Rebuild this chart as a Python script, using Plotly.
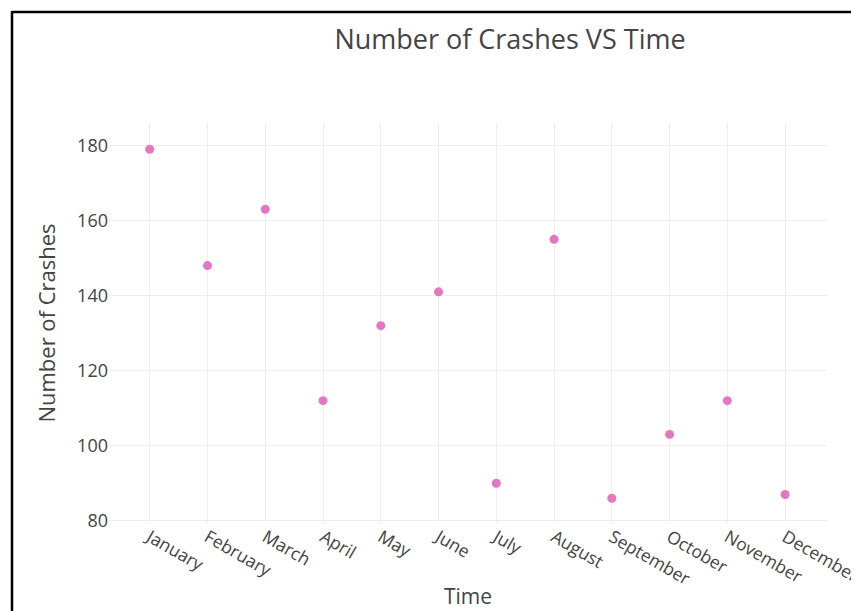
import plotly.graph_objects as go

months = ["January", "February", "March", "April", "May", "June",
          "July", "August", "September", "October", "November", "December"]
crashes = [179, 148, 163, 112, 132, 141, 90, 155, 86, 103, 112, 87]
y_ticks = [80, 100, 120, 140, 160, 180]

W, H = 859, 611
OFF = 8  # page body margin
L, R, T, B = 109 - OFF, 827 - OFF, 123 - OFF, 523 - OFF  # plot area in figure px

def px_to_paper_x(px):
    return (px - OFF - L) / (R - L)

def px_to_paper_y(py):
    return (B - (py - OFF)) / (B - T)

fig = go.Figure(go.Scatter(
    x=months, y=crashes, mode="markers",
    marker=dict(color="#e377c2", size=9),
))

fig.update_layout(
    width=W, height=H,
    margin=dict(l=L, r=W - R, t=T, b=H - B, autoexpand=False),
    paper_bgcolor="white", plot_bgcolor="white",
    font=dict(family="Open Sans, verdana, arial, sans-serif", color="#444", size=18),
    title=dict(text="Number of Crashes VS Time", x=(510 - OFF) / W, xref="container",
               xanchor="center", y=1 - (40 - OFF) / H, yref="container", yanchor="middle",
               font=dict(size=27, color="#444")),
    showlegend=False,
    shapes=[
        dict(type="line", xref="paper", yref="paper",
             x0=px_to_paper_x(12), x1=px_to_paper_x(900),
             y0=px_to_paper_y(12), y1=px_to_paper_y(12),
             line=dict(color="black", width=2.5)),
        dict(type="line", xref="paper", yref="paper",
             x0=px_to_paper_x(12), x1=px_to_paper_x(12),
             y0=px_to_paper_y(11), y1=px_to_paper_y(700),
             line=dict(color="black", width=2.5)),
    ],
)

fig.update_xaxes(
    type="category", range=[-0.705, 11.725], automargin=False,
    showgrid=True, gridcolor="#eeeeee", gridwidth=1.3,
    tickangle=30, tickfont=dict(size=17.5),
    title=dict(text="Time", font=dict(size=21), standoff=0),
    zeroline=False, showline=False,
)
fig.update_yaxes(
    range=[79.4, 186.0], automargin=False,
    tickvals=y_ticks, showgrid=True, gridcolor="#eeeeee", gridwidth=1.3,
    tickfont=dict(size=18),
    title=dict(text="Number of Crashes", font=dict(size=22)),
    zeroline=False, showline=False,
)

fig.write_html("out.html")
